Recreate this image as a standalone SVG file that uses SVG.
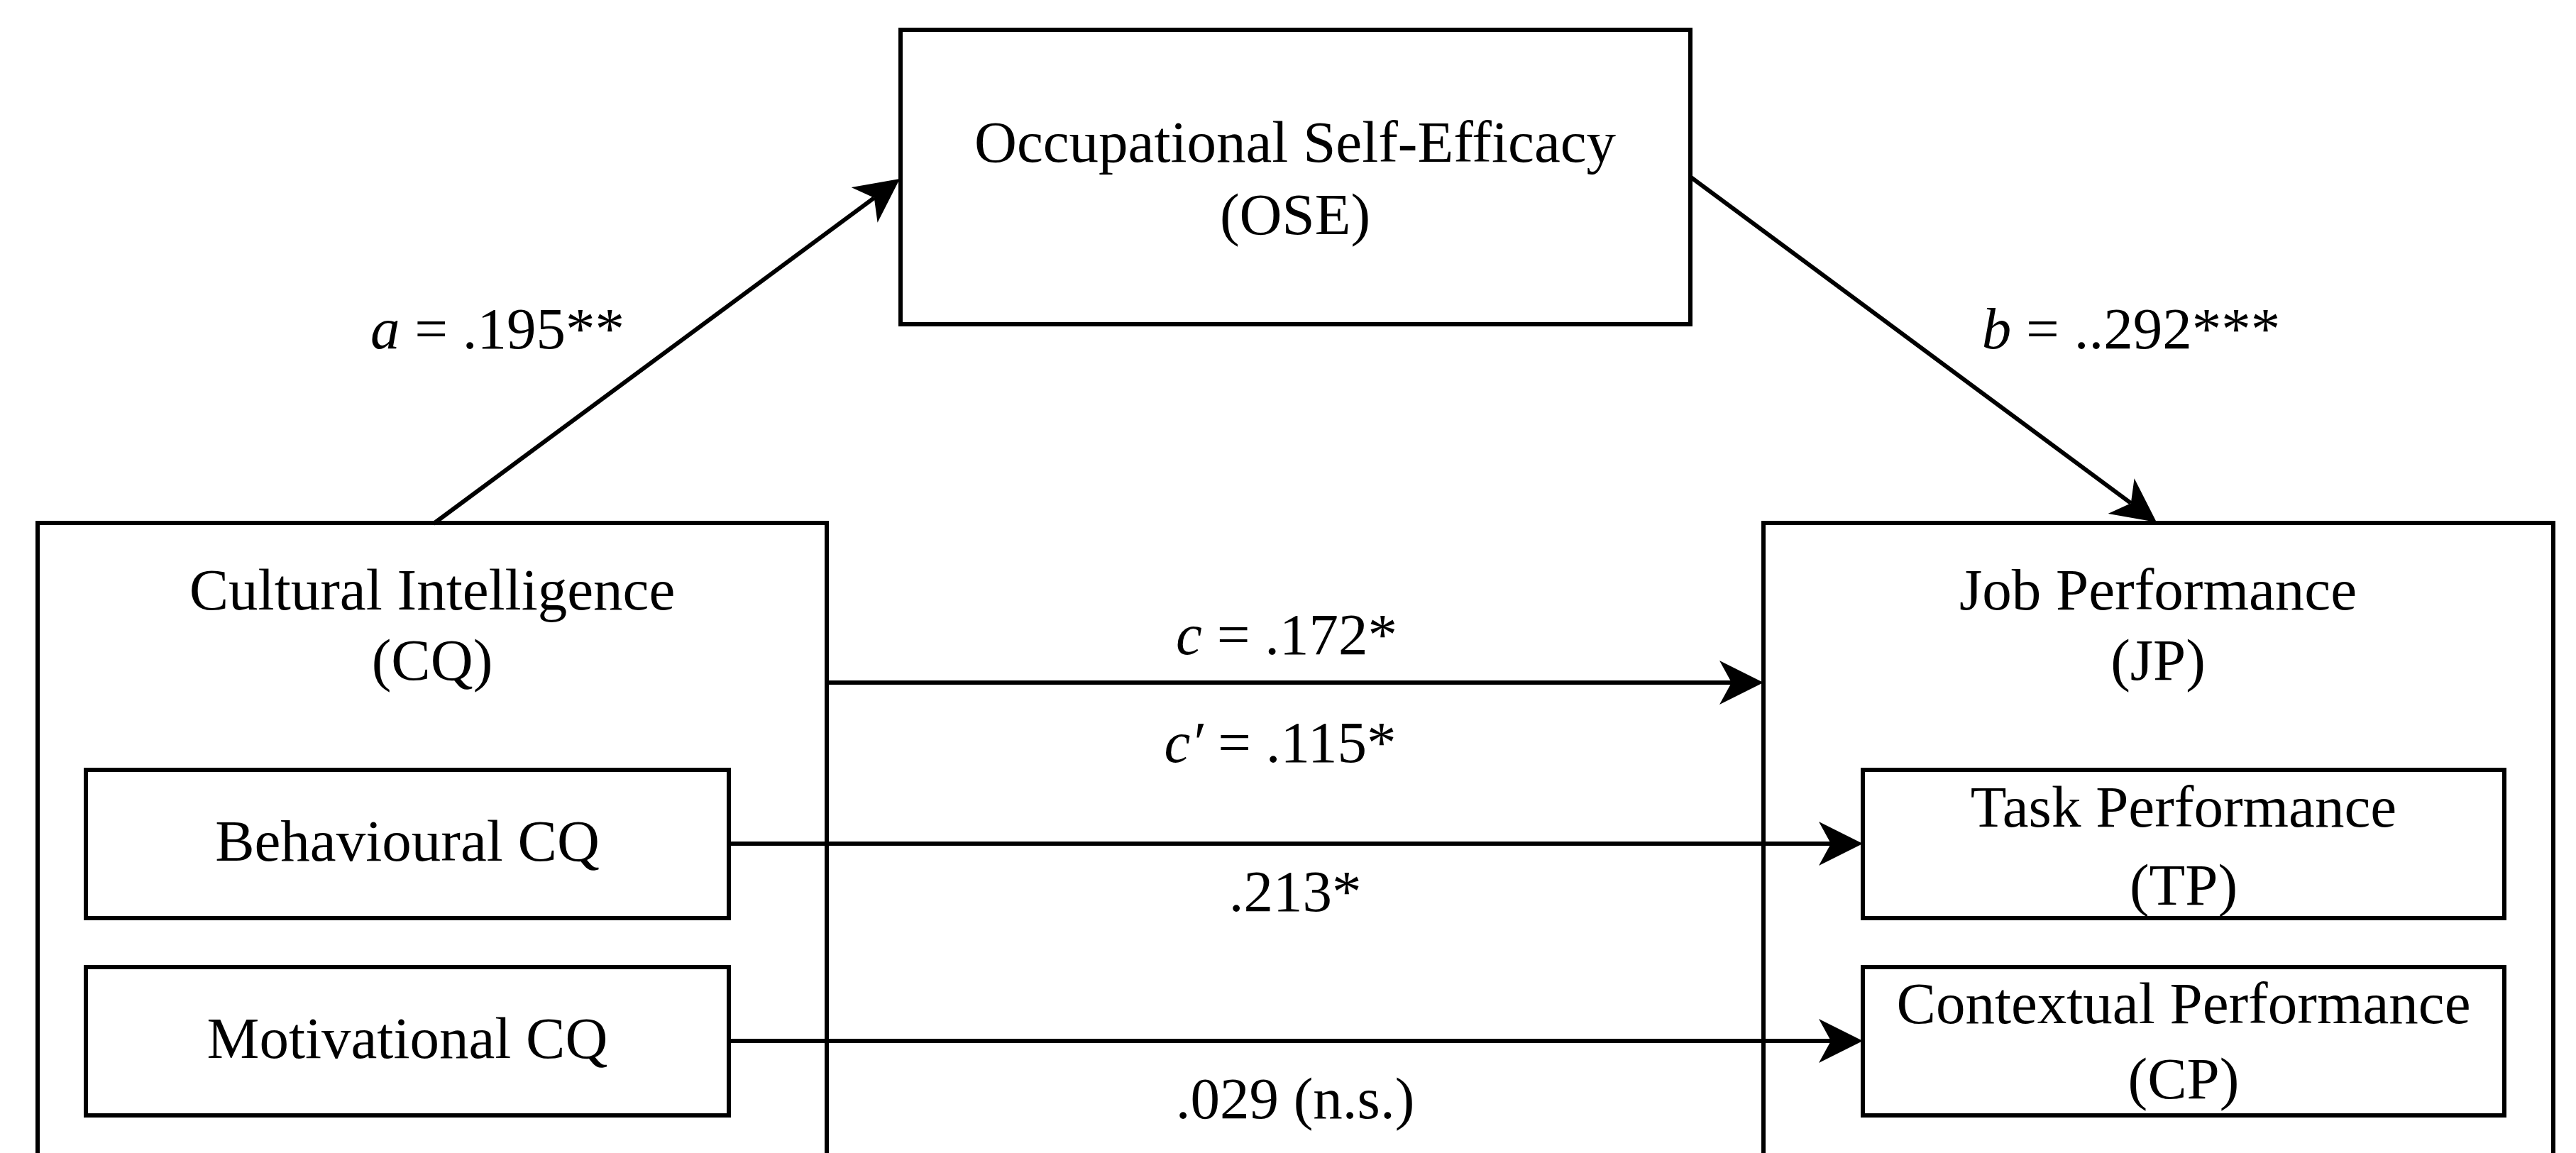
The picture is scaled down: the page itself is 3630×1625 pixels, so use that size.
<svg xmlns="http://www.w3.org/2000/svg" width="3630" height="1625" viewBox="0 0 3630 1625">
  <style>
    .box { fill: #ffffff; stroke: #000000; stroke-width: 6; }
    .edge { fill: none; stroke: #000000; stroke-width: 6; }
    text { font-family: "Liberation Serif", "Times New Roman", serif; font-size: 83px; fill: #000000; text-anchor: middle; }
    .it { font-style: italic; }
  </style>
  <defs>
    <marker id="arrow" markerUnits="userSpaceOnUse" viewBox="0 0 62 62" markerWidth="62" markerHeight="62" refX="17" refY="31" orient="auto">
      <path d="M0,0 L62,31 L0,62 L17,31 Z" fill="#000000"/>
    </marker>
  </defs>
  <rect width="3630" height="1625" fill="#ffffff"/>

  <!-- Predictor: Cultural Intelligence with its sub-dimensions -->
  <g id="node-cq">
    <rect class="box" x="53" y="737" width="1112" height="1000"/>
    <text x="609" y="859">Cultural Intelligence</text>
    <text x="609" y="958">(CQ)</text>
  </g>
  <g id="node-bcq">
    <rect class="box" x="121" y="1085" width="906" height="209"/>
    <text x="574" y="1213">Behavioural CQ</text>
  </g>
  <g id="node-mcq">
    <rect class="box" x="121" y="1363" width="906" height="209"/>
    <text x="574" y="1491">Motivational CQ</text>
  </g>

  <!-- Mediator -->
  <g id="node-ose">
    <rect class="box" x="1269" y="42" width="1113" height="415"/>
    <text x="1825" y="228">Occupational Self-Efficacy</text>
    <text x="1825" y="330">(OSE)</text>
  </g>

  <!-- Outcome: Job Performance with its sub-dimensions -->
  <g id="node-jp">
    <rect class="box" x="2485" y="737" width="1113" height="1000"/>
    <text x="3041" y="859">Job Performance</text>
    <text x="3041" y="958">(JP)</text>
  </g>
  <g id="node-tp">
    <rect class="box" x="2625" y="1085" width="904" height="209"/>
    <text x="3077" y="1165">Task Performance</text>
    <text x="3077" y="1275">(TP)</text>
  </g>
  <g id="node-cp">
    <rect class="box" x="2625" y="1363" width="904" height="209"/>
    <text x="3077" y="1442">Contextual Performance</text>
    <text x="3077" y="1548">(CP)</text>
  </g>

  <!-- Paths and coefficients -->
  <g id="connectors">
    <line class="edge" x1="611" y1="738" x2="1231.8" y2="278.8" marker-end="url(#arrow)"/>
    <line class="edge" x1="2383" y1="250" x2="3002.8" y2="709.2" marker-end="url(#arrow)"/>
    <line class="edge" x1="1165" y1="962" x2="2440" y2="962" marker-end="url(#arrow)"/>
    <line class="edge" x1="1027" y1="1189" x2="2580" y2="1189" marker-end="url(#arrow)"/>
    <line class="edge" x1="1027" y1="1467" x2="2580" y2="1467" marker-end="url(#arrow)"/>

    <text x="701" y="491"><tspan class="it">a</tspan> = .195**</text>
    <text x="3003" y="491"><tspan class="it">b</tspan> = ..292***</text>
    <text x="1813" y="922"><tspan class="it">c</tspan> = .172*</text>
    <text x="1804" y="1074"><tspan class="it">c′</tspan> = .115*</text>
    <text x="1825" y="1284">.213*</text>
    <text x="1825" y="1576">.029 (n.s.)</text>
  </g>
</svg>
